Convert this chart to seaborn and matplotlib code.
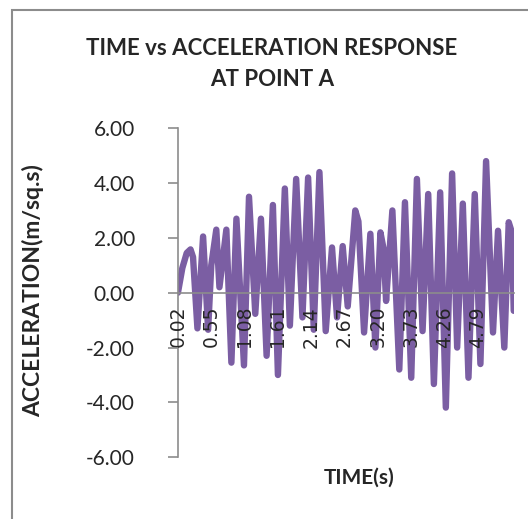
import pandas as pd
import seaborn as sns
import matplotlib.pyplot as plt
from matplotlib.patches import Rectangle

# peaks and troughs
time_s = [0.02, 0.09, 0.16, 0.22, 0.26, 0.33, 0.42, 0.50, 0.55, 0.63,
          0.68, 0.79, 0.87, 0.95, 1.07, 1.15, 1.25, 1.34, 1.43, 1.53,
          1.61, 1.72, 1.80, 1.90, 2.00, 2.09, 2.18, 2.27, 2.37, 2.47,
          2.55, 2.64, 2.72, 2.84, 2.89, 2.98, 3.08, 3.16, 3.24, 3.29,
          3.33, 3.43, 3.54, 3.63, 3.73, 3.82, 3.91, 4.00, 4.09, 4.19,
          4.28, 4.38, 4.46, 4.55, 4.64, 4.74, 4.83, 4.92, 5.03, 5.11,
          5.21, 5.28, 5.33, 5.36]
accel = [0.00, 0.90, 1.45, 1.58, 1.30, -1.30, 2.05, -1.35, 1.00, 2.30,
         0.20, 2.30, -2.55, 2.70, -2.65, 3.50, -0.77, 2.70, -2.30, 3.20,
         -3.00, 3.80, -1.20, 4.15, -0.90, 4.20, -1.35, 4.40, -1.40, 1.65,
         -0.90, 1.70, -0.50, 3.00, 2.60, -1.45, 2.15, -2.00, 2.20, 1.60,
         -0.30, 3.00, -2.80, 3.30, -3.10, 4.15, -1.40, 3.60, -3.33, 3.66,
         -4.19, 4.35, -2.00, 3.25, -3.10, 3.60, -2.60, 4.80, -1.45, 2.26,
         -2.00, 2.57, 2.20, -0.66]

tick_vals = [0.02, 0.55, 1.08, 1.61, 2.14, 2.67, 3.20, 3.73, 4.26, 4.79]
y_ticks = [-6, -4, -2, 0, 2, 4, 6]

df = pd.DataFrame({'time': time_s, 'accel': accel})

sns.set_style('white')
plt.rcParams['font.family'] = ['Lato', 'DejaVu Sans']

fig = plt.figure(figsize=(5.28, 5.19), dpi=100)
ax = fig.add_axes([0.337, 0.119, 0.636, 0.634])

sns.lineplot(data=df, x='time', y='accel', color='#7b5ea3', linewidth=4.6,
             solid_joinstyle='round', solid_capstyle='round', ax=ax)
ax.set_axisbelow(False)

# move the category axis to y = 0 before styling the ticks
ax.spines['top'].set_visible(False)
ax.spines['right'].set_visible(False)
ax.spines['bottom'].set_position(('data', 0))
for s in ['left', 'bottom']:
    ax.spines[s].set_color('#8c8c8c')
    ax.spines[s].set_linewidth(1.2)

ax.set_xlim(time_s[0], time_s[-1])
ax.set_ylim(-6, 6)
ax.set_yticks(y_ticks)
ax.set_yticklabels([f'{v:.2f}' for v in y_ticks], fontsize=15)
ax.set_xticks(tick_vals)
ax.set_xticklabels([f'{v:.2f}' for v in tick_vals], rotation=90,
                   fontsize=13.5, family='DejaVu Sans', va='top')

ax.tick_params(axis='y', left=True, length=7, width=1.2, color='#8c8c8c',
               pad=24)
ax.tick_params(axis='x', bottom=False, pad=6)

ax.set_xlabel('')
ax.set_ylabel('')
fig.text(0.063, 0.441, 'ACCELERATION(m/sq.s)', rotation=90, fontsize=16.5,
         fontweight='bold', ha='center', va='center')
fig.text(0.68, 0.079, 'TIME(s)', fontsize=15, fontweight='bold',
         ha='center', va='center')
fig.text(0.515, 0.877, 'TIME vs ACCELERATION RESPONSE\nAT POINT A',
         fontsize=16, fontweight='bold', ha='center', va='center',
         linespacing=1.55)

fig.patches.append(Rectangle((0.0227, -0.5), 1.5, 1.481, transform=fig.transFigure,
                             fill=False, edgecolor='#8c8c8c', linewidth=1.5))

fig.savefig('out.png', dpi=100)
